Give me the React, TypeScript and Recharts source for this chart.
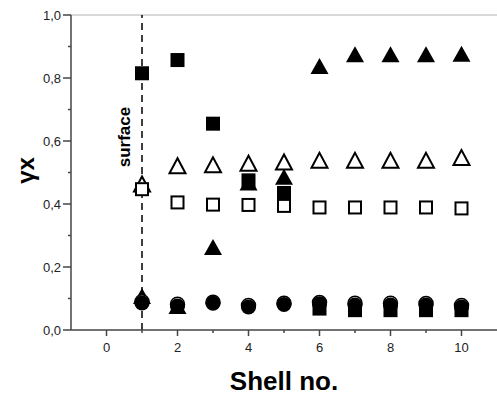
import React from "react";
import {
  ScatterChart,
  Scatter,
  XAxis,
  YAxis,
  ReferenceLine,
} from "recharts";

const shells = [1, 2, 3, 4, 5, 6, 7, 8, 9, 10];

const filledSquares = [0.815, 0.857, 0.655, 0.475, 0.435, 0.068, 0.063, 0.063, 0.063, 0.063];
const filledTriangles = [0.105, 0.073, 0.26, 0.465, 0.483, 0.835, 0.872, 0.872, 0.872, 0.874];
const openTriangles = [0.462, 0.52, 0.523, 0.528, 0.532, 0.537, 0.537, 0.537, 0.537, 0.546];
const openSquares = [0.447, 0.405, 0.398, 0.397, 0.394, 0.389, 0.389, 0.389, 0.389, 0.386];
const openCircles = [0.09, 0.082, 0.088, 0.078, 0.085, 0.087, 0.085, 0.085, 0.084, 0.078];
const filledCircles = [0.086, 0.076, 0.085, 0.073, 0.081, 0.083, 0.079, 0.079, 0.079, 0.073];

const xTicks = [0, 1, 2, 3, 4, 5, 6, 7, 8, 9, 10];
const yTicks = [0, 0.1, 0.2, 0.3, 0.4, 0.5, 0.6, 0.7, 0.8, 0.9, 1.0];

const FONT = '"Liberation Sans", Arial, sans-serif';
const AXIS = "#444";

const toPoints = (vals: number[]) => shells.map((x, i) => ({ x, y: vals[i] }));

const FilledSquare = (p: any) => (
  <rect x={p.cx - 7} y={p.cy - 7} width={14} height={14} fill="#000" />
);
const OpenSquare = (p: any) => (
  <rect x={p.cx - 6} y={p.cy - 6} width={12} height={12} fill="#fff" stroke="#000" strokeWidth={2} />
);
const FilledTriangle = (p: any) => (
  <polygon
    points={`${p.cx},${p.cy - 9} ${p.cx - 9},${p.cy + 7} ${p.cx + 9},${p.cy + 7}`}
    fill="#000"
  />
);
const OpenTriangle = (p: any) => (
  <polygon
    points={`${p.cx},${p.cy - 8} ${p.cx - 8},${p.cy + 7} ${p.cx + 8},${p.cy + 7}`}
    fill="#fff"
    stroke="#000"
    strokeWidth={2}
  />
);
const OpenCircle = (p: any) => (
  <circle cx={p.cx} cy={p.cy} r={7} fill="#fff" stroke="#000" strokeWidth={1.5} />
);
const FilledCircle = (p: any) => <circle cx={p.cx} cy={p.cy} r={7.5} fill="#000" />;

function XTick({ x, y, payload }: any) {
  const major = payload.value % 2 === 0;
  return (
    <g>
      <line x1={x} x2={x} y1={y} y2={y + (major ? 6 : 3)} stroke={AXIS} strokeWidth={1.5} />
      {major && (
        <text x={x} y={y + 22} textAnchor="middle" fontSize={13} fontFamily={FONT} fill="#222">
          {payload.value}
        </text>
      )}
    </g>
  );
}

function YTick({ x, y, payload }: any) {
  const major = Math.round(payload.value * 10) % 2 === 0;
  return (
    <g>
      <line x1={x - (major ? 8 : 3)} x2={x} y1={y} y2={y} stroke={AXIS} strokeWidth={1.5} />
      {major && (
        <text x={x - 10} y={y + 4.5} textAnchor="end" fontSize={13} fontFamily={FONT} fill="#222">
          {payload.value.toFixed(1).replace(".", ",")}
        </text>
      )}
    </g>
  );
}

export default function App() {
  return (
    <div style={{ position: "absolute", left: 0, top: 0, width: 497, height: 396, background: "#fff" }}>
      <ScatterChart width={497} height={396} margin={{ top: 15, right: 0, bottom: 0, left: 0 }}>
        <XAxis
          type="number"
          dataKey="x"
          domain={[-1, 11]}
          allowDataOverflow
          ticks={xTicks}
          interval={0}
          height={66}
          tickSize={0}
          tickMargin={0}
          tickLine={false}
          axisLine={{ stroke: AXIS, strokeWidth: 1.5 }}
          tick={<XTick />}
          label={{
            content: ({ viewBox }: any) => (
              <text
                x={viewBox.x + viewBox.width / 2}
                y={viewBox.y + 60}
                textAnchor="middle"
                fontSize={26}
                fontWeight="bold"
                fontFamily={FONT}
                fill="#000"
              >
                Shell no.
              </text>
            ),
          }}
        />
        <YAxis
          type="number"
          dataKey="y"
          domain={[0, 1]}
          allowDataOverflow
          ticks={yTicks}
          interval={0}
          width={71}
          tickSize={0}
          tickMargin={0}
          tickLine={false}
          axisLine={{ stroke: AXIS, strokeWidth: 1.5 }}
          tick={<YTick />}
          label={{
            content: ({ viewBox }: any) => {
              const cx = viewBox.x + 25;
              const cy = viewBox.y + viewBox.height / 2 - 2;
              return (
                <text
                  x={cx}
                  y={cy}
                  transform={`rotate(-90 ${cx} ${cy})`}
                  textAnchor="middle"
                  dominantBaseline="central"
                  fontSize={24}
                  fontWeight="bold"
                  fontFamily={FONT}
                  fill="#000"
                >
                  γx
                </text>
              );
            },
          }}
        />
        <ReferenceLine y={1} stroke="#ccc" strokeWidth={1.5} />
        <ReferenceLine
          x={1}
          stroke="#000"
          strokeWidth={1.5}
          strokeDasharray="7 5"
          label={{
            content: ({ viewBox }: any) => {
              const cx = viewBox.x - 18;
              const cy = viewBox.y + 122;
              return (
                <text
                  x={cx}
                  y={cy}
                  transform={`rotate(-90 ${cx} ${cy})`}
                  textAnchor="middle"
                  dominantBaseline="central"
                  fontSize={17}
                  fontWeight="bold"
                  fontFamily={FONT}
                  fill="#000"
                >
                  surface
                </text>
              );
            },
          }}
        />
        <Scatter data={toPoints(openTriangles)} shape={OpenTriangle} isAnimationActive={false} />
        <Scatter data={toPoints(filledTriangles)} shape={FilledTriangle} isAnimationActive={false} />
        <Scatter data={toPoints(filledSquares)} shape={FilledSquare} isAnimationActive={false} />
        <Scatter data={toPoints(openSquares)} shape={OpenSquare} isAnimationActive={false} />
        <Scatter data={toPoints(openCircles)} shape={OpenCircle} isAnimationActive={false} />
        <Scatter data={toPoints(filledCircles)} shape={FilledCircle} isAnimationActive={false} />
      </ScatterChart>
    </div>
  );
}
